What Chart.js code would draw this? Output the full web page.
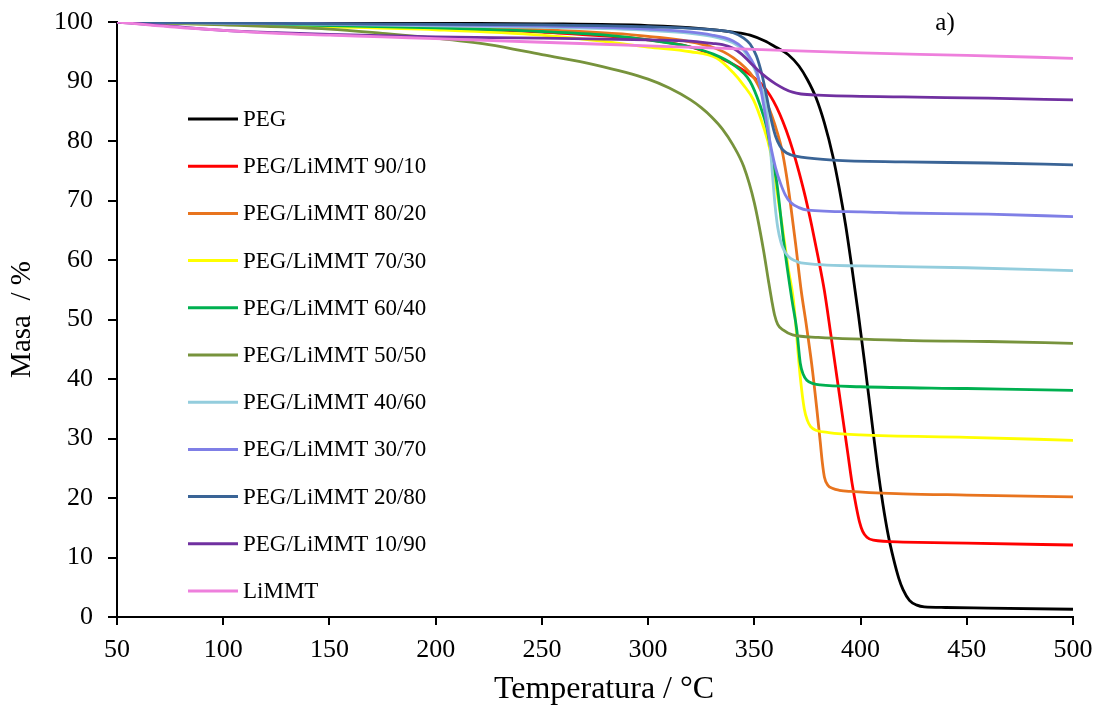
<!DOCTYPE html>
<html>
<head>
<meta charset="utf-8">
<script src="https://cdn.jsdelivr.net/npm/chart.js@4.4.1/dist/chart.umd.min.js"></script>
<style>
  html, body { margin: 0; padding: 0; background: #fff; }
  canvas { display: block; }
</style>
</head>
<body>
<canvas id="tgaChart" width="1103" height="708"></canvas>
<script>
// series labels and colours (legend order)
var seriesNames = [
  "PEG",
  "PEG/LiMMT 90/10",
  "PEG/LiMMT 80/20",
  "PEG/LiMMT 70/30",
  "PEG/LiMMT 60/40",
  "PEG/LiMMT 50/50",
  "PEG/LiMMT 40/60",
  "PEG/LiMMT 30/70",
  "PEG/LiMMT 20/80",
  "PEG/LiMMT 10/90",
  "LiMMT",
];
var seriesColors = [
  "#000000", "#ff0000", "#e8741e", "#ffff00", "#00b050", "#77933c",
  "#93cddd", "#7f7fe6", "#3a6496", "#7030a0", "#ee7fdc",
];

// temperature (°C) / mass (%)
var pegT = [50, 150, 250, 300, 325, 340, 348, 355, 360, 366, 371, 375, 379, 383, 387, 390, 393, 396, 399, 402, 405, 408, 410.5, 413, 415.5, 418, 420, 423, 426.5, 430, 440, 460, 500];
var pegM = [100, 99.9, 99.7, 99.4, 98.9, 98.3, 97.8, 96.8, 95.8, 94.5, 92.6, 90.3, 87.3, 83, 77.4, 72, 65.8, 58.5, 50.8, 42.5, 33.8, 25.2, 19, 13.8, 9.8, 6.5, 4.6, 2.8, 2, 1.7, 1.6, 1.5, 1.3];

var p90T = [50, 100, 150, 200, 250, 300, 320, 330, 340, 347, 352.7, 356, 359, 362, 365, 368, 371, 374, 377, 380, 383, 386, 389, 392, 394, 396, 398, 399.5, 401, 403, 406, 420, 450, 500];
var p90M = [100, 99.7, 99.4, 99, 98.3, 97, 95.8, 94.5, 92.9, 91.4, 89.8, 88.4, 86.7, 84.5, 81.8, 78.6, 74.8, 70.6, 65.8, 60.5, 54.8, 47.5, 40, 32.5, 27.5, 22.5, 18.5, 16, 14.4, 13.4, 12.9, 12.6, 12.4, 12.1];

var p80T = [50, 100, 150, 200, 250, 300, 330, 340, 350, 355, 358.2, 361, 363, 365, 367, 369.5, 372, 374.5, 377, 379.4, 381, 382, 383, 384.5, 387, 390, 395, 420, 450, 500];
var p80M = [100, 99.8, 99.5, 99.2, 98.7, 97.6, 95.8, 94, 90.5, 87, 84.3, 81.2, 78.5, 74.5, 69.5, 62.5, 55, 49, 42.5, 35, 29.5, 26, 23.5, 22.2, 21.6, 21.3, 21.1, 20.7, 20.5, 20.2];

var p70T = [50, 100, 150, 200, 250, 280, 300, 320, 332.4, 340, 344.9, 349.6, 354.3, 357.4, 360, 363, 366, 368.4, 371.6, 373.5, 375, 376.5, 379, 385, 400, 450, 500];
var p70M = [100, 99.6, 99.2, 98.7, 97.8, 96.7, 95.8, 95, 93.9, 91.5, 89.4, 86.9, 82.4, 78.5, 73, 66, 58.5, 53.3, 40.4, 35, 33, 32, 31.4, 31, 30.6, 30.2, 29.7];

var p60T = [50, 100, 150, 200, 250, 280, 300, 320, 330, 340.2, 348, 352.7, 355.9, 358, 360.6, 363.7, 367.7, 370, 371.6, 373, 374.7, 378, 381, 400, 450, 500];
var p60M = [100, 99.7, 99.4, 99, 98.4, 97.8, 97, 95.8, 94.7, 92.8, 90, 86, 82.2, 78, 72.9, 63.4, 53.3, 48.2, 42.7, 40.8, 39.8, 39.2, 39, 38.7, 38.4, 38.1];

var p50T = [50, 100, 150, 175, 200, 225, 250, 275, 300, 310, 320, 325, 330, 335, 340, 345, 350, 354.3, 356.6, 358.3, 359.5, 361, 363.7, 368, 380, 420, 460, 500];
var p50M = [100, 99.5, 98.8, 98.1, 97.3, 96.2, 94.5, 92.8, 90.4, 88.9, 86.9, 85.6, 84, 82, 79.3, 75.7, 69.6, 61.7, 56.6, 53, 50.8, 49.2, 48.2, 47.4, 47, 46.5, 46.3, 46];

var p40T = [50, 150, 250, 300, 330, 340, 345, 350, 353, 355, 356.5, 357.5, 358.5, 359.8, 361, 362.5, 364, 366, 369, 372, 400, 450, 500];
var p40M = [100, 99.6, 99.1, 98.6, 97.6, 96.5, 95.2, 92.2, 89.3, 87, 83, 79, 74.5, 69, 65.5, 63, 61.6, 60.6, 59.9, 59.5, 59, 58.7, 58.2];

var p30T = [50, 150, 250, 300, 330, 340, 345, 348, 351.2, 353, 354.5, 356.5, 358.2, 360, 362.2, 364.5, 367, 371, 375, 400, 418.6, 460, 500];
var p30M = [100, 99.7, 99.3, 98.8, 97.8, 96.8, 95.5, 94, 91.6, 88.8, 85.8, 81.5, 78.3, 75.5, 73, 71, 69.7, 68.8, 68.4, 68.1, 67.9, 67.7, 67.3];

var p20T = [50, 150, 250, 300, 330, 340, 345, 348, 351, 353.5, 355.9, 358, 360, 362, 364, 367, 372, 387, 420, 460, 500];
var p20M = [100, 99.7, 99.5, 99.2, 98.7, 98.2, 97.3, 96.3, 94.3, 91.3, 87.3, 83.5, 80.8, 79.2, 78.3, 77.7, 77.3, 76.8, 76.5, 76.3, 76];

var p10T = [50, 75, 100, 125, 150, 200, 250, 300, 320, 330, 335, 340, 344, 348, 352, 356, 360, 364, 368, 372, 380, 420, 460, 500];
var p10M = [100, 99.3, 98.6, 98.2, 97.9, 97.5, 97.3, 97, 96.8, 96.4, 96.2, 95.6, 94.6, 93.2, 91.8, 90.6, 89.6, 88.8, 88.2, 87.9, 87.7, 87.4, 87.2, 86.9];

var limmtT = [50, 75, 100, 125, 150, 175, 200, 250, 300, 350, 400, 450, 500];
var limmtM = [100, 99.2, 98.6, 98.1, 97.8, 97.5, 97.2, 96.6, 96, 95.4, 94.8, 94.4, 93.9];

var seriesT = [pegT, p90T, p80T, p70T, p60T, p50T, p40T, p30T, p20T, p10T, limmtT];
var seriesM = [pegM, p90M, p80M, p70M, p60M, p50M, p40M, p30M, p20M, p10M, limmtM];

var xTickMin = 50, xTickMax = 500, xTickStep = 50;
var yTickMin = 0, yTickMax = 100, yTickStep = 10;

var serif = '"Liberation Serif", "Times New Roman", serif';

function toPoints(T, M) {
  return T.map(function (t, i) {
    return { x: t, y: M[i] };
  });
}

var datasets = seriesNames.map(function (name, i) {
  return {
    label: name,
    data: toPoints(seriesT[i], seriesM[i]),
    borderColor: seriesColors[i],
    backgroundColor: seriesColors[i],
    borderWidth: 2.8,
    pointRadius: 0,
    fill: false,
    cubicInterpolationMode: "monotone",
    // later series are painted on top (as in the original)
    order: seriesNames.length - 1 - i,
  };
});

// legend drawn inside the plot area, x title and the "a)" panel tag
var insideLegend = {
  id: "insideLegend",
  afterDraw: function (chart) {
    var ctx = chart.ctx;
    var area = chart.chartArea;
    ctx.save();
    ctx.font = "23px " + serif;
    ctx.textBaseline = "middle";
    ctx.textAlign = "left";
    chart.data.datasets.forEach(function (ds, i) {
      var y = area.top + 97 + i * 47.2;
      var x0 = area.left + 71;
      ctx.strokeStyle = ds.borderColor;
      ctx.lineWidth = 3;
      ctx.beginPath();
      ctx.moveTo(x0, y);
      ctx.lineTo(x0 + 50, y);
      ctx.stroke();
      ctx.fillStyle = "#000";
      ctx.fillText(ds.label, x0 + 55, y + 1);
    });
    ctx.textAlign = "center";
    ctx.font = "25px " + serif;
    ctx.fillText("a)", area.left + 828, area.top + 1);
    ctx.font = "32px " + serif;
    ctx.fillText("Temperatura / °C", (area.left + area.right) / 2 + 9, area.bottom + 73);
    ctx.restore();
  },
};

var chart = new Chart("tgaChart", {
  type: "line",
  data: { datasets: datasets },
  plugins: [insideLegend],
  options: {
    responsive: false,
    animation: false,
    devicePixelRatio: 1,
    layout: { padding: { left: 0, right: 30, top: 22, bottom: 0 } },
    plugins: {
      legend: { display: false },
      tooltip: { enabled: false },
    },
    scales: {
      x: {
        type: "linear",
        min: xTickMin,
        max: xTickMax,
        afterFit: function (s) {
          s.height = 91;
          s.paddingLeft = 0;
          s.paddingRight = 0;
        },
        ticks: {
          stepSize: xTickStep,
          color: "#000",
          font: { family: serif, size: 26 },
          padding: 10,
          maxRotation: 0,
        },
        grid: {
          drawOnChartArea: false,
          drawTicks: true,
          tickLength: 8,
          color: "#000",
          lineWidth: 2,
        },
        border: { color: "#000", width: 2 },
      },
      y: {
        min: yTickMin,
        max: yTickMax,
        afterFit: function (s) {
          s.width = 117;
          s.paddingTop = 0;
          s.paddingBottom = 0;
        },
        ticks: {
          stepSize: yTickStep,
          color: "#000",
          font: { family: serif, size: 26 },
          padding: 15,
        },
        grid: {
          drawOnChartArea: false,
          drawTicks: true,
          tickLength: 9,
          color: "#000",
          lineWidth: 2,
        },
        border: { color: "#000", width: 2 },
        title: {
          display: true,
          text: "Masa  / %",
          color: "#000",
          font: { family: serif, size: 29 },
          padding: { top: 5, bottom: 0 },
        },
      },
    },
  },
});
</script>
</body>
</html>
